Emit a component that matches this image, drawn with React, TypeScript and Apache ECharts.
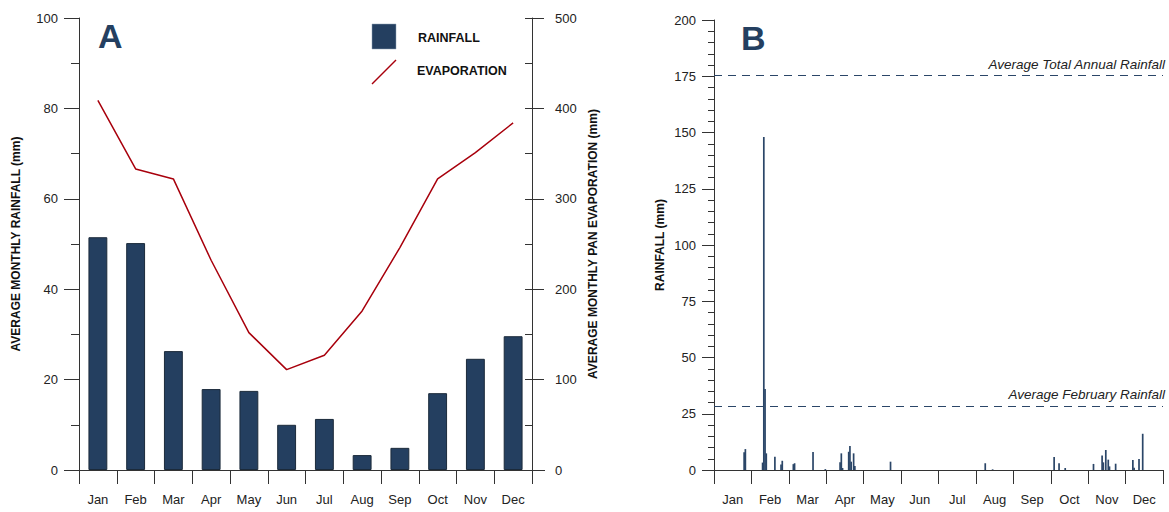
import React, { useEffect, useRef } from "react";
import * as echarts from "echarts";

const months = ["Jan", "Feb", "Mar", "Apr", "May", "Jun", "Jul", "Aug", "Sep", "Oct", "Nov", "Dec"];
const monthlyRainfall = [51.5, 50.2, 26.3, 17.9, 17.5, 10.0, 11.3, 3.3, 4.9, 17.0, 24.6, 29.6];
const monthlyEvaporation = [409, 333, 322, 232, 152, 111, 127, 176, 246, 322, 351, 384];

// Daily rainfall (day of year, 0-based) for panel B; all other days are zero
const dailyDays = [24, 25, 39, 40, 41, 42, 49, 54, 55, 64, 65, 80, 90, 102, 103, 104, 109, 110, 111, 113, 114, 143, 220, 226, 276, 280, 285, 308, 315, 316, 318, 320, 321, 326, 340, 341, 345, 348];
const dailyRain = [7.9, 9.3, 3.3, 148, 36, 7.4, 5.9, 2.5, 4.1, 2.6, 3.0, 8.0, 0.4, 3.4, 7.4, 0.9, 8.1, 10.7, 3.7, 7.4, 1.8, 3.7, 3.0, 0.3, 5.8, 3.0, 0.9, 2.7, 6.5, 3.4, 8.9, 4.6, 1.6, 2.8, 4.4, 1.0, 4.9, 16.1];

const avgAnnualRainfall = 175.5;
const avgFebruaryRainfall = 28.5;

const FONT = "Liberation Sans, Arial, sans-serif";
const NAVY = "#243f60";
const RED = "#a8000c";
const AXIS = "#333333";

export default function App() {
  const ref = useRef<HTMLDivElement>(null);
  useEffect(() => {
    if (!ref.current) return;
    const chart = echarts.init(ref.current, undefined, { renderer: "svg" });
    const label = { fontFamily: FONT, fontSize: 13, color: "#222" };
    const nameStyle = { fontFamily: FONT, fontSize: 12, fontWeight: "bold" as const, color: "#111" };
    chart.setOption({
      animation: false,
      backgroundColor: "#ffffff",
      textStyle: { fontFamily: FONT },
      grid: [
        { left: 79, top: 18, width: 453, height: 452 },
        { left: 714, top: 20, width: 449, height: 450 },
      ],
      xAxis: [
        {
          type: "category", gridIndex: 0, data: months, boundaryGap: true,
          axisLine: { show: false },
          axisTick: { show: true, length: 14, lineStyle: { color: AXIS } },
          axisLabel: { ...label, margin: 23, interval: 0 },
        },
        {
          type: "category", gridIndex: 1, data: months, boundaryGap: true,
          axisLine: { show: true, lineStyle: { color: AXIS } },
          axisTick: { show: true, length: 14, lineStyle: { color: AXIS } },
          axisLabel: { ...label, margin: 23, interval: 0 },
        },
        { type: "value", gridIndex: 1, min: 0, max: 365, show: false },
      ],
      yAxis: [
        {
          type: "value", gridIndex: 0, min: 0, max: 100, interval: 20, position: "left",
          axisLine: { show: true, lineStyle: { color: AXIS } },
          axisTick: { show: true, length: 15, lineStyle: { color: AXIS } },
          minorTick: { show: true, splitNumber: 2, length: 8, lineStyle: { color: AXIS } },
          splitLine: { show: false },
          axisLabel: { ...label, margin: 21 },
          name: "AVERAGE MONTHLY RAINFALL (mm)", nameLocation: "middle", nameRotate: 90, nameGap: 57,
          nameTextStyle: nameStyle,
        },
        {
          type: "value", gridIndex: 0, min: 0, max: 500, interval: 100, position: "right",
          axisLine: { show: true, lineStyle: { color: AXIS } },
          axisTick: { show: true, length: 12, lineStyle: { color: AXIS } },
          splitLine: { show: false },
          axisLabel: { ...label, margin: 23 },
          name: "AVERAGE MONTHLY PAN EVAPORATION (mm)", nameLocation: "middle", nameRotate: 90, nameGap: 55,
          nameTextStyle: nameStyle,
        },
        {
          type: "value", gridIndex: 0, min: 0, max: 500, interval: 50, position: "right",
          axisLine: { show: false },
          axisTick: { show: true, inside: true, length: 7, lineStyle: { color: AXIS } },
          axisLabel: { show: false },
          splitLine: { show: false },
        },
        {
          type: "value", gridIndex: 1, min: 0, max: 200, interval: 25, position: "left",
          axisLine: { show: true, lineStyle: { color: AXIS } },
          axisTick: { show: true, length: 12, lineStyle: { color: AXIS } },
          minorTick: { show: true, splitNumber: 5, length: 6, lineStyle: { color: AXIS } },
          splitLine: { show: false },
          axisLabel: { ...label, margin: 18 },
          name: "RAINFALL (mm)", nameLocation: "middle", nameRotate: 90, nameGap: 48,
          nameTextStyle: nameStyle,
        },
      ],
      series: [
        {
          type: "bar", name: "RAINFALL", xAxisIndex: 0, yAxisIndex: 0,
          data: monthlyRainfall, barWidth: "50%",
          itemStyle: { color: NAVY, borderColor: "#1b2a3a", borderWidth: 1 },
        },
        {
          type: "line", name: "EVAPORATION", xAxisIndex: 0, yAxisIndex: 1,
          data: monthlyEvaporation, symbol: "none",
          lineStyle: { color: RED, width: 1.5 },
        },
        {
          type: "bar", name: "DAILY", xAxisIndex: 2, yAxisIndex: 3,
          data: dailyDays.map((d, i) => [d + 0.5, dailyRain[i]]),
          barWidth: 1.7,
          itemStyle: { color: "#2b4668" },
          markLine: {
            symbol: "none", silent: true,
            lineStyle: { color: "#2b4668", type: [8, 6], width: 1.2 },
            label: {
              position: "insideEndTop", fontFamily: FONT, fontSize: 13.5, fontStyle: "italic",
              color: "#222", distance: [-2, 4],
            },
            data: [
              { yAxis: avgAnnualRainfall, label: { formatter: "Average Total Annual Rainfall" } },
              { yAxis: avgFebruaryRainfall, label: { formatter: "Average February Rainfall" } },
            ],
          },
        },
      ],
      graphic: [
        { type: "line", shape: { x1: 65, y1: 470.5, x2: 545, y2: 470.5 }, style: { stroke: AXIS, lineWidth: 1 } },
        { type: "text", x: 98, y: 19, style: { text: "A", font: `bold 34px ${FONT}`, fill: NAVY } },
        { type: "text", x: 741, y: 21, style: { text: "B", font: `bold 34px ${FONT}`, fill: NAVY } },
        { type: "rect", shape: { x: 372, y: 24, width: 24, height: 25 }, style: { fill: NAVY, stroke: "#8da0b5", lineWidth: 0.5 } },
        { type: "text", x: 418, y: 38, style: { text: "RAINFALL", font: `bold 12.5px ${FONT}`, fill: "#111", textVerticalAlign: "middle" } },
        { type: "line", shape: { x1: 372, y1: 84, x2: 396, y2: 60 }, style: { stroke: RED, lineWidth: 1.5 } },
        { type: "text", x: 417, y: 71, style: { text: "EVAPORATION", font: `bold 12.5px ${FONT}`, fill: "#111", textVerticalAlign: "middle" } },
      ],
    });
    return () => chart.dispose();
  }, []);
  return <div ref={ref} style={{ position: "fixed", left: 0, top: 0, width: 1169, height: 512 }} />;
}
